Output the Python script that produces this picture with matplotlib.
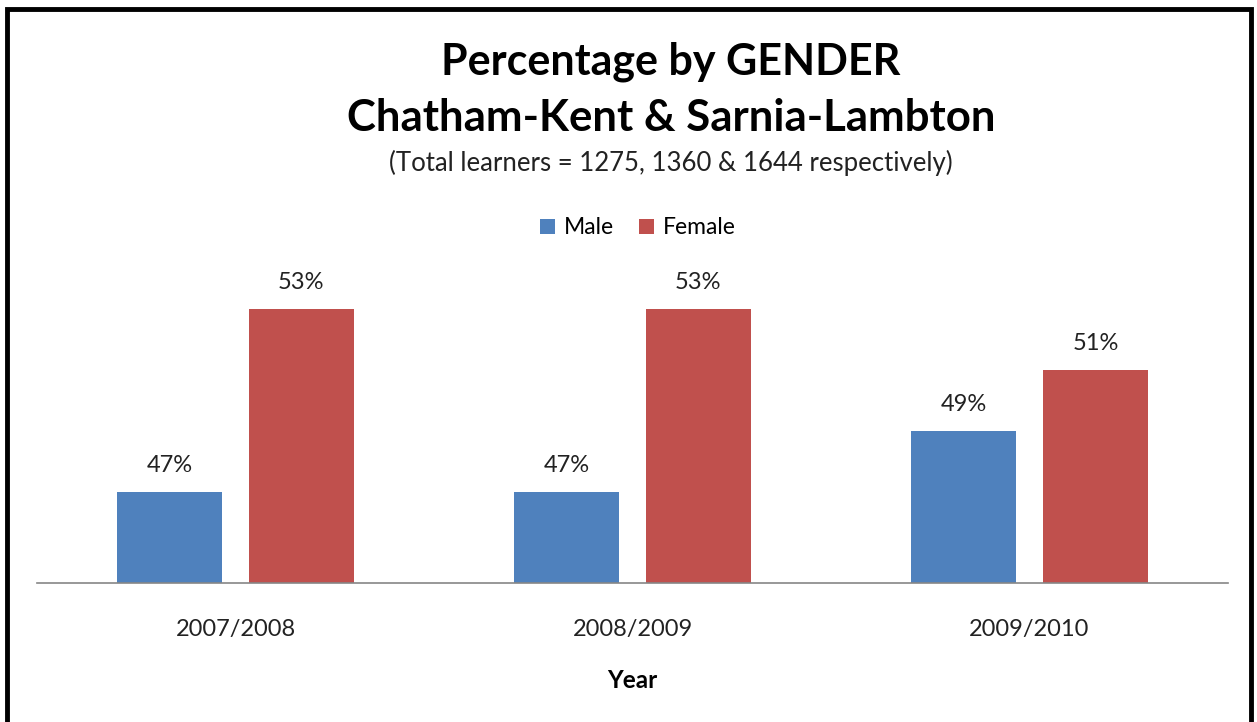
import matplotlib.pyplot as plt
from matplotlib.patches import Rectangle
import numpy as np

# Data
years = ['2007/2008', '2008/2009', '2009/2010']
male = [47, 47, 49]
female = [53, 53, 51]
totals = [1275, 1360, 1644]

blue = '#4F81BD'
red = '#C0504D'

plt.rcParams['font.family'] = ['Lato', 'DejaVu Sans']

fig = plt.figure(figsize=(12.57, 7.22), dpi=100)
ax = fig.add_axes([37 / 1257, 139 / 722, 1191 / 1257, 305 / 722])

x = np.arange(len(years))
w = 0.265
off = 0.166
b1 = ax.bar(x - off, male, w, color=blue, label='Male')
b2 = ax.bar(x + off, female, w, color=red, label='Female')

for bars, vals in [(b1, male), (b2, female)]:
    for bar, v in zip(bars, vals):
        ax.text(bar.get_x() + bar.get_width() / 2, v + 0.5, f'{v}%',
                ha='center', va='bottom', fontsize=17, color='#222222')

ax.set_xlim(-0.5, 2.5)
ax.set_ylim(44, 54)
ax.set_xticks(x)
ax.set_xticklabels(years, fontsize=17, color='#222222')
ax.tick_params(axis='x', length=0, pad=26)
ax.set_yticks([])
for s in ['top', 'right', 'left']:
    ax.spines[s].set_visible(False)
ax.spines['bottom'].set_color('#868686')
ax.spines['bottom'].set_linewidth(1.2)
ax.set_xlabel('Year', fontsize=17.5, fontweight='bold', labelpad=21)

# Titles (sit a bit right of the plot centre, as in the original)
tx = 671 / 1257
fig.text(tx, 1 - 62 / 722, 'Percentage by GENDER', ha='center', va='center',
         fontsize=31, fontweight='bold')
fig.text(tx, 1 - 118 / 722, 'Chatham-Kent & Sarnia-Lambton', ha='center', va='center',
         fontsize=31.5, fontweight='bold')
fig.text(tx, 1 - 163 / 722, '(Total learners = %d, %d & %d respectively)' % tuple(totals),
         ha='center', va='center', fontsize=18.5, color='#222222')

fig.legend(handles=[b1, b2], loc='center', bbox_to_anchor=(638 / 1257, 1 - 228 / 722),
           ncol=2, frameon=False, fontsize=16.5, handlelength=0.65, handleheight=0.65,
           columnspacing=1.1, handletextpad=0.4)

# Black frame around the chart
fig.patches.append(Rectangle((7 / 1257, -0.05), 1244 / 1257, 1.05 - 9 / 722,
                             transform=fig.transFigure, fill=False,
                             edgecolor='black', linewidth=3.5))

fig.savefig('out.png', dpi=100, facecolor='white')
